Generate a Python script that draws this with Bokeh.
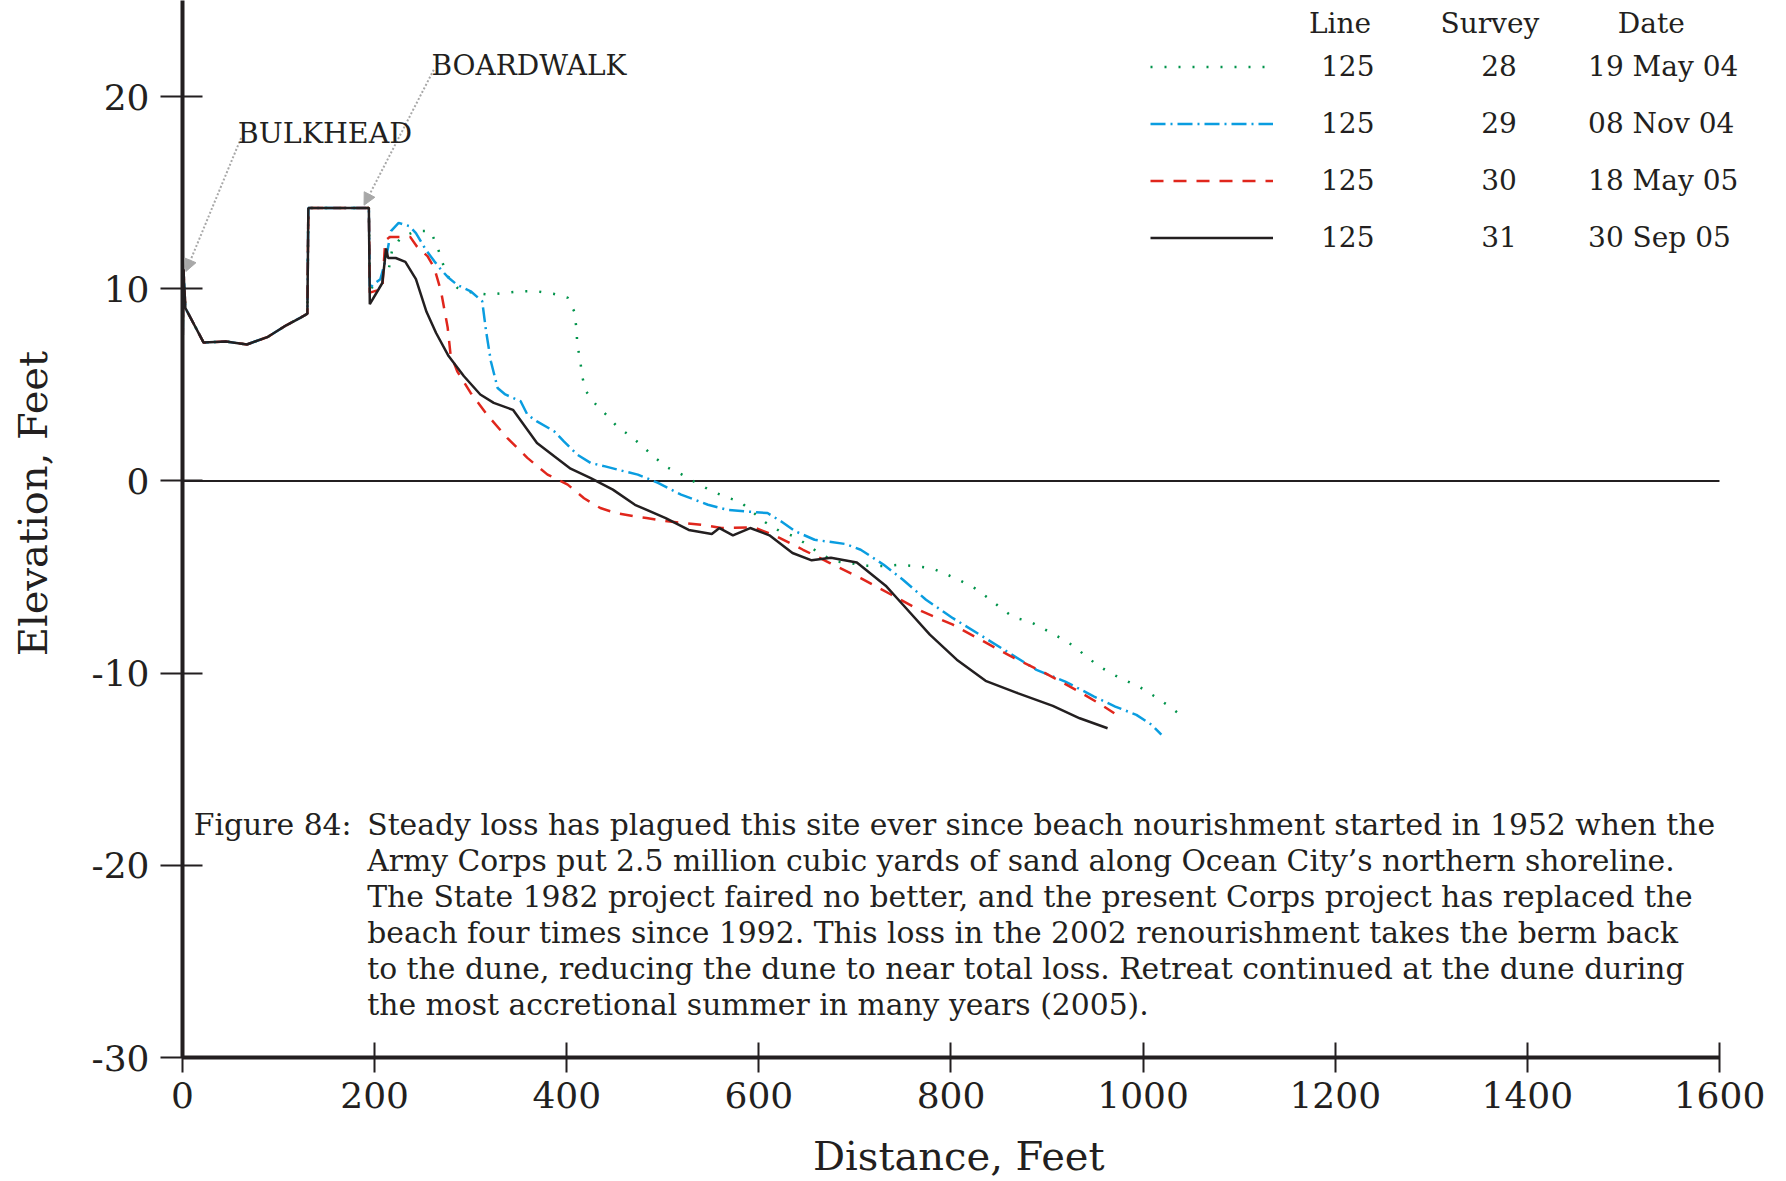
from bokeh.plotting import figure
from bokeh.models import Range1d, Label, Arrow, NormalHead, Legend, LegendItem, FixedTicker
from bokeh.embed import file_html
from bokeh.resources import INLINE

# ---------------- data ----------------
# landward part shared by all surveys (bulkhead + boardwalk)
land_x = [0, 1, 3, 22, 45, 67, 89, 108, 123, 130, 131, 194]
land_y = [6.1, 11.0, 9.0, 7.2, 7.26, 7.1, 7.5, 8.1, 8.5, 8.7, 14.2, 14.2]

s28_x = [195, 205, 215, 218, 227, 243, 258, 265, 270, 276, 286, 302, 319, 336, 352, 369, 386, 401,
         408, 410, 411, 414, 416, 420, 430, 442, 453, 467, 480, 492, 505, 520, 535, 550, 565, 581,
         594, 607, 621, 637, 651, 665, 681, 697, 713, 730, 746, 763, 780, 795, 810, 825, 839, 852,
         865, 882, 897, 911, 926, 939, 952, 966, 982, 996, 1011, 1025, 1038]
s28_y = [10.0, 10.3, 11.1, 11.96, 12.65, 13.0, 13.0, 12.25, 11.44, 10.66, 10.05, 9.79, 9.7, 9.79,
         9.87, 9.87, 9.74, 9.53, 8.8, 7.96, 7.1, 6.28, 5.45, 4.67, 4.0, 3.4, 2.8, 2.32, 1.75, 1.2,
         0.7, 0.33, -0.1, -0.5, -0.82, -1.1, -1.64, -2.16, -2.59, -2.89, -3.34, -3.84, -4.19,
         -4.29, -4.41, -4.43, -4.36, -4.43, -4.54, -4.85, -5.19, -5.59, -6.1, -6.62, -7.1, -7.31,
         -7.71, -8.09, -8.53, -9.05, -9.57, -10.0, -10.39, -10.71, -11.18, -11.65, -12.14]

s29_x = [195, 198, 206, 212, 217, 225, 236, 243, 253, 262, 269, 277, 286, 300, 312, 316, 321, 328,
         336, 352, 359, 369, 387, 397, 411, 425, 440, 460, 474, 483, 495, 519, 547, 567, 595, 609,
         623, 638, 658, 690, 706, 730, 750, 774, 802, 830, 858, 889, 919, 949, 971, 993, 1009, 1019]
s29_y = [10.0, 10.2, 10.5, 11.6, 13.0, 13.43, 13.26, 12.9, 12.05, 11.44, 11.0, 10.57, 10.2, 9.87,
         9.35, 7.8, 6.23, 4.84, 4.5, 4.15, 3.45, 3.1, 2.58, 2.06, 1.37, 0.93, 0.76, 0.5, 0.33, 0.15,
         -0.1, -0.71, -1.24, -1.5, -1.62, -1.67, -2.1, -2.62, -3.06, -3.28, -3.58, -4.36, -5.14,
         -6.18, -7.14, -8.0, -8.87, -9.83, -10.44, -11.22, -11.74, -12.17, -12.69, -13.2]

s30_x = [195, 208, 211, 216, 237, 244, 255, 262, 269, 276, 279, 286, 300, 317, 338, 359, 380, 401,
         418, 435, 451, 470, 483, 505, 540, 561, 595, 615, 646, 674, 706, 738, 770, 802, 834, 866,
         898, 930, 954, 970]
s30_y = [9.8, 10.0, 12.5, 12.7, 12.7, 12.2, 11.7, 11.1, 9.9, 8.0, 6.6, 5.7, 4.58, 3.45, 2.24, 1.2,
         0.33, -0.19, -0.9, -1.41, -1.67, -1.84, -1.93, -2.1, -2.28, -2.45, -2.42, -2.8, -3.58,
         -4.27, -5.06, -5.92, -6.79, -7.48, -8.35, -9.22, -10.0, -10.87, -11.57, -12.09]

s31_x = [195, 208, 212, 214, 222, 232, 243, 254, 264, 277, 293, 310, 324, 344, 369, 387, 404, 425,
         448, 471, 503, 527, 551, 559, 573, 591, 611, 635, 655, 675, 702, 732, 750, 778, 806, 836,
         870, 906, 934, 963]
s31_y = [9.2, 10.3, 12.1, 11.6, 11.6, 11.4, 10.5, 8.8, 7.7, 6.5, 5.45, 4.5, 4.06, 3.7, 1.97, 1.28,
         0.64, 0.15, -0.45, -1.24, -1.93, -2.55, -2.76, -2.45, -2.83, -2.45, -2.83, -3.75, -4.13,
         -4.0, -4.24, -5.45, -6.44, -8.0, -9.3, -10.4, -11.05, -11.7, -12.35, -12.87]

line_no = ["125", "125", "125", "125"]
surveys = ["28", "29", "30", "31"]
dates = ["19 May 04", "08 Nov 04", "18 May 05", "30 Sep 05"]

x_ticks = [0, 200, 400, 600, 800, 1000, 1200, 1400, 1600]
y_ticks = [-30, -20, -10, 0, 10, 20]

x_title = "Distance, Feet"
y_title = "Elevation, Feet"

caption_lead = "Figure 84:"
caption_lines = [
    "Steady loss has plagued this site ever since beach nourishment started in 1952 when the",
    "Army Corps put 2.5 million cubic yards of sand along Ocean City\u2019s northern shoreline.",
    "The State 1982 project faired no better, and the present Corps project has replaced the",
    "beach four times since 1992.  This loss in the 2002 renourishment takes the berm back",
    "to the dune, reducing the dune to near total loss.  Retreat continued at the dune during",
    "the most accretional summer in many years (2005).",
]

# ---------------- figure ----------------
FONT = "DejaVu Serif"
INK = "#231f20"
NB = "\u00a0"

p = figure(width=1780, height=1181, x_range=Range1d(0, 1642.7), y_range=Range1d(-30, 25),
           output_backend="svg", toolbar_location=None,
           min_border_left=182, min_border_right=20, min_border_top=0, min_border_bottom=124)
p.outline_line_color = None
p.xgrid.grid_line_color = None
p.ygrid.grid_line_color = None

for ax in (p.xaxis[0], p.yaxis[0]):
    ax.axis_line_width = 4
    ax.axis_line_color = INK
    ax.major_tick_line_width = 2
    ax.major_tick_line_color = INK
    ax.minor_tick_line_color = None
    ax.major_label_text_font = FONT
    ax.major_label_text_font_size = "36px"
    ax.major_label_text_color = INK
    ax.axis_label_text_font = FONT
    ax.axis_label_text_font_size = "40px"
    ax.axis_label_text_font_style = "normal"
    ax.axis_label_text_color = INK

p.xaxis.ticker = FixedTicker(ticks=x_ticks)
p.yaxis.ticker = FixedTicker(ticks=y_ticks)
p.xaxis.bounds = (x_ticks[0], x_ticks[-1])
p.xaxis.major_label_overrides = {t: str(t) for t in x_ticks}
p.yaxis.major_label_overrides = {t: str(t) for t in y_ticks}
p.xaxis.major_tick_in = 15
p.xaxis.major_tick_out = 15
p.yaxis.major_tick_in = 20
p.yaxis.major_tick_out = 22
p.xaxis.major_label_standoff = 9
p.yaxis.major_label_standoff = 11
# non-breaking spaces nudge the centred titles to the reference position
p.xaxis.axis_label = x_title + NB * 2
p.yaxis.axis_label = NB * 4 + y_title
p.xaxis.axis_label_standoff = 22
p.yaxis.axis_label_standoff = 33

# zero line across the axis extent
p.segment(x0=[x_ticks[0]], y0=[0], x1=[x_ticks[-1]], y1=[0], line_color=INK, line_width=2)

series = [
    (s28_x, s28_y, "#00934a", "2 12", 2.5),
    (s29_x, s29_y, "#0a9de0", "15 5 2 5", 2.5),
    (s30_x, s30_y, "#e0261c", "13 10", 2.5),
    (s31_x, s31_y, INK, "solid", 2.5),
]
renderers = []
for sx, sy, col, dash, w in series:
    r = p.line(land_x + sx, land_y + sy, line_color=col, line_dash=dash, line_width=w)
    renderers.append(r)

items = []
for r, ln, sv, dt in zip(renderers, line_no, surveys, dates):
    lab = ln + NB * 12 + sv + NB * 8 + dt
    items.append(LegendItem(label=lab, renderers=[r]))
legend = Legend(items=items, location=(968, 803), glyph_width=123, glyph_height=33,
                label_height=33, label_standoff=48, spacing=24, padding=0, margin=0,
                border_line_color=None, background_fill_alpha=0,
                label_text_font=FONT, label_text_font_size="28px", label_text_color=INK)
p.add_layout(legend)

for txt, hx in (("Line", 1205), ("Survey", 1361), ("Date", 1529)):
    p.add_layout(Label(x=hx, y=23.8, text=txt, text_align="center", text_baseline="alphabetic",
                       text_font=FONT, text_font_size="28px", text_color=INK))

# annotations
gray = "#a8a8a8"
p.add_layout(Arrow(x_start=61, y_start=17.85, x_end=3.5, y_end=10.9, line_color=gray,
                   line_width=2, line_dash="2 2",
                   end=NormalHead(size=12, fill_color=gray, line_color=gray)))
p.add_layout(Arrow(x_start=261.6, y_start=21.4, x_end=189, y_end=14.35, line_color=gray,
                   line_width=2, line_dash="2 2",
                   end=NormalHead(size=12, fill_color=gray, line_color=gray)))
p.add_layout(Label(x=57.6, y=18.1, text="BULKHEAD", text_font=FONT, text_font_size="28.5px",
                   text_color=INK, text_baseline="alphabetic"))
p.add_layout(Label(x=259.2, y=21.63, text="BOARDWALK", text_font=FONT, text_font_size="28px",
                   text_color=INK, text_baseline="alphabetic"))

# caption
cap_y0 = -17.88
cap_dy = 1.873
CAP_SIZE = "29.8px"
p.add_layout(Label(x=11.8, y=cap_y0, text=caption_lead, text_font=FONT, text_font_size=CAP_SIZE,
                   text_color=INK, text_baseline="alphabetic"))
for i, line in enumerate(caption_lines):
    p.add_layout(Label(x=192.3, y=cap_y0 - i * cap_dy, text=line, text_font=FONT,
                       text_font_size=CAP_SIZE, text_color=INK, text_baseline="alphabetic"))

open("out.html", "w").write(file_html(p, INLINE))
